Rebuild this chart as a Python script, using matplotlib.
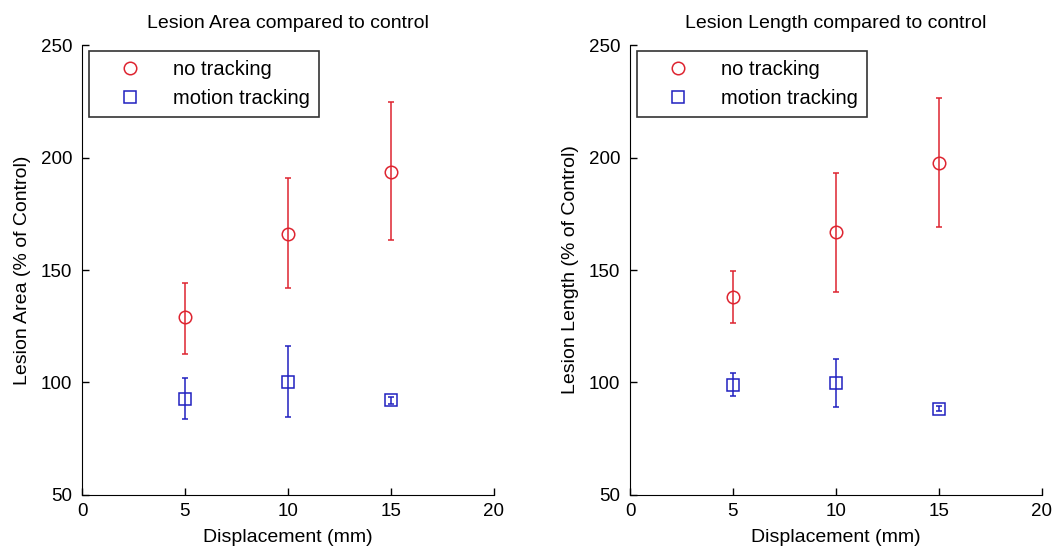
import numpy as np
import matplotlib.pyplot as plt

plt.rcParams['font.family'] = ['Liberation Sans', 'DejaVu Sans']
plt.rcParams['font.size'] = 12

disp = [5, 10, 15]

# Lesion area (% of control)
area_none = [128.9, 166.2, 193.5]
area_none_lo = [112.7, 142.2, 163.3]
area_none_hi = [144.3, 190.8, 224.5]
area_track = [92.8, 100.0, 92.0]
area_track_lo = [83.9, 84.7, 90.5]
area_track_hi = [102.1, 116.4, 93.5]

# Lesion length (% of control)
len_none = [138.2, 167.1, 197.5]
len_none_lo = [126.6, 140.3, 169.3]
len_none_hi = [149.4, 193.1, 226.4]
len_track = [99.0, 99.6, 88.4]
len_track_lo = [94.0, 89.2, 87.4]
len_track_hi = [104.0, 110.4, 89.4]

titles = ['Lesion Area compared to control', 'Lesion Length compared to control']
ylabels = ['Lesion Area (% of Control)', 'Lesion Length (% of Control)']
labels = ['no tracking', 'motion tracking']

fig = plt.figure(figsize=(10.61, 5.53), dpi=100)
ax1 = fig.add_axes([0.0773, 0.1049, 0.388, 0.8137])
ax2 = fig.add_axes([0.5938, 0.1049, 0.388, 0.8137])

data = [
    (area_none, area_none_lo, area_none_hi, area_track, area_track_lo, area_track_hi),
    (len_none, len_none_lo, len_none_hi, len_track, len_track_lo, len_track_hi),
]

for ax, d, title, ylab in zip([ax1, ax2], data, titles, ylabels):
    m1, lo1, hi1, m2, lo2, hi2 = [np.array(v) for v in d]
    eb1 = ax.errorbar(disp, m1, yerr=[m1 - lo1, hi1 - m1], fmt='o', color='#de2430',
                      mfc='none', ms=9, mew=1.1, elinewidth=1.1, capsize=2, capthick=1.1)
    eb2 = ax.errorbar(disp, m2, yerr=[m2 - lo2, hi2 - m2], fmt='s', color='#2020c0',
                      mfc='none', ms=9, mew=1.1, elinewidth=1.1, capsize=2, capthick=1.1)
    ax.set_xlim(0, 20)
    ax.set_ylim(50, 250)
    ax.set_xticks([0, 5, 10, 15, 20])
    ax.set_yticks([50, 100, 150, 200, 250])
    ax.spines['top'].set_visible(False)
    ax.spines['right'].set_visible(False)
    ax.tick_params(direction='in', length=5, width=1, colors='black', labelsize=13.5)
    ax.tick_params(axis='x', pad=6)
    ax.tick_params(axis='y', pad=7)
    ax.set_title(title, fontsize=14, pad=12)
    ax.set_xlabel('Displacement (mm)', fontsize=14, labelpad=6)
    ax.set_ylabel(ylab, fontsize=14, labelpad=7)
    # legend with markers only, no error bars
    leg = ax.legend([eb1[0], eb2[0]], labels, loc='upper left',
                    bbox_to_anchor=(0.017, 0.987), borderaxespad=0, frameon=True,
                    fancybox=False, edgecolor='black', fontsize=14.5,
                    handlelength=3.2, handletextpad=0.5, borderpad=0.45,
                    labelspacing=0.5)
    leg.get_frame().set_linewidth(1.2)

fig.savefig('out.png', dpi=100)
